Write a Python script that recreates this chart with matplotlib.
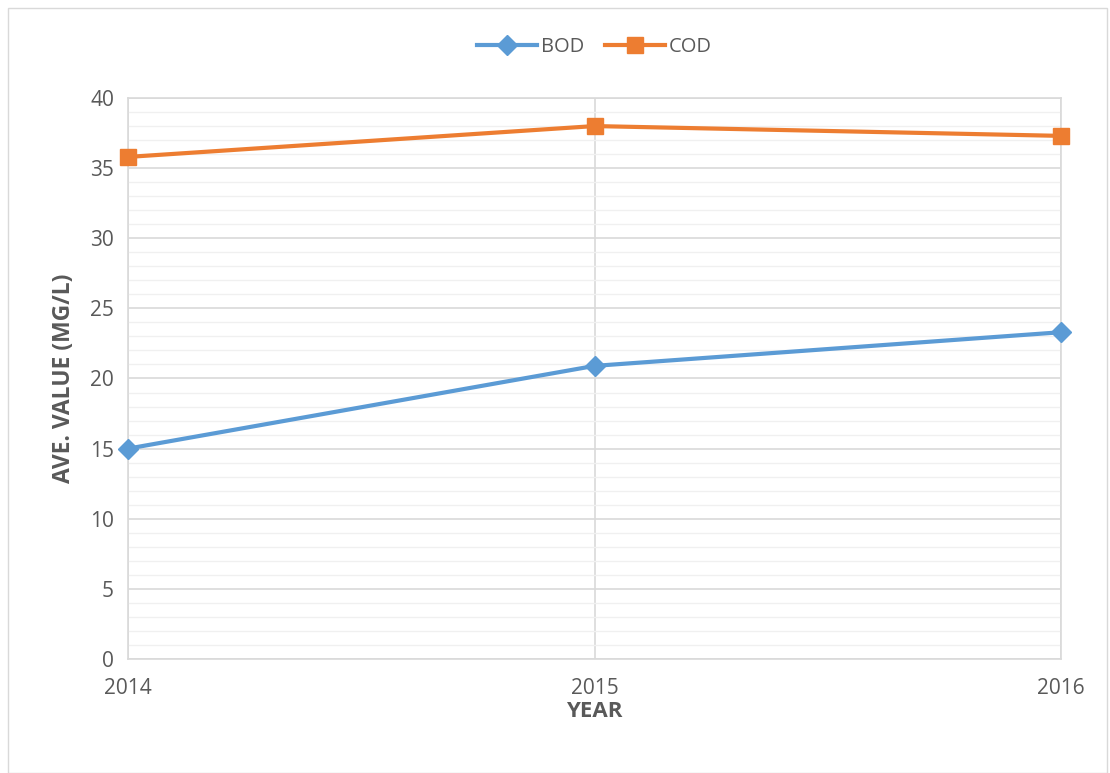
import matplotlib
matplotlib.use("Agg")
from matplotlib import pyplot as plt
from matplotlib.patches import Rectangle
from matplotlib.ticker import MultipleLocator

# data
years = [2014, 2015, 2016]
bod = [15.0, 20.9, 23.3]
cod = [35.8, 38.0, 37.3]

plt.rcParams['font.family'] = ['Open Sans', 'DejaVu Sans']

fig = plt.figure(figsize=(11.1, 7.73), dpi=100)
ax = fig.add_axes([0.1153, 0.1475, 0.8406, 0.7257])

# outer chart border
fig.patches.append(Rectangle((0.007, 0.0), 0.99, 0.99, transform=fig.transFigure,
                             fill=False, edgecolor='#d9d9d9', linewidth=1))

ax.plot(years, bod, color='#5b9bd5', linewidth=3, marker='D', markersize=10,
        label='BOD', zorder=3, clip_on=False)
ax.plot(years, cod, color='#ed7d31', linewidth=3, marker='s', markersize=11,
        label='COD', zorder=3, clip_on=False)

ax.set_xlim(2014, 2016)
ax.set_ylim(0, 40)
ax.set_xticks(years)
ax.yaxis.set_major_locator(MultipleLocator(5))
ax.yaxis.set_minor_locator(MultipleLocator(1))
ax.grid(which='major', axis='both', color='#d9d9d9', linewidth=1.2)
ax.grid(which='minor', axis='y', color='#f0f0f0', linewidth=1)
ax.set_axisbelow(True)

for s in ax.spines.values():
    s.set_color('#d9d9d9')
    s.set_linewidth(1.2)

ax.tick_params(which='both', length=0, colors='#595959', labelsize=15)
ax.tick_params(axis='x', pad=14)
ax.tick_params(axis='y', pad=10)

ax.set_xlabel('YEAR', fontsize=16, fontweight='bold', color='#595959', labelpad=1)
ax.set_ylabel('AVE. VALUE (MG/L)', fontsize=16.5, fontweight='bold', color='#595959',
              labelpad=10)

ax.legend(loc='lower center', bbox_to_anchor=(0.5, 1.04), ncol=2, frameon=False,
          fontsize=14.5, labelcolor='#595959', handlelength=3, columnspacing=1.0,
          handletextpad=0.2)

fig.savefig('out.png', dpi=100)
